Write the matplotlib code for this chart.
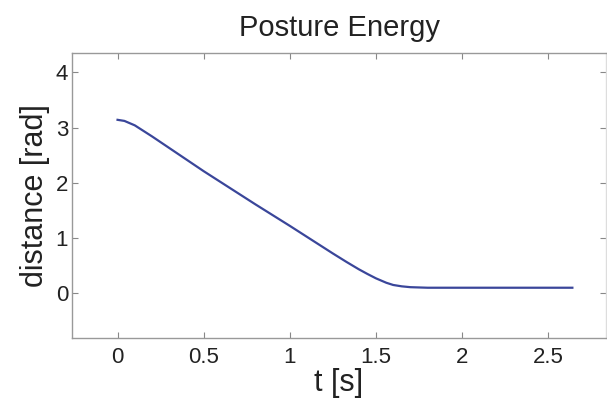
import matplotlib
matplotlib.use("Agg")
import matplotlib.pyplot as plt

# curve
t = [0.0, 0.04, 0.1, 0.2, 0.5, 0.8, 1.0, 1.15, 1.25, 1.33, 1.4, 1.45, 1.5,
     1.56, 1.6, 1.65, 1.7, 1.8, 2.0, 2.3, 2.64]
dist = [3.14, 3.12, 3.04, 2.84, 2.21, 1.61, 1.22, 0.92, 0.72, 0.565, 0.435, 0.35,
        0.27, 0.19, 0.15, 0.125, 0.11, 0.10, 0.10, 0.10, 0.10]

xticks = [0, 0.5, 1, 1.5, 2, 2.5]
xticklabels = ["0", "0.5", "1", "1.5", "2", "2.5"]
yticks = [0, 1, 2, 3, 4]

plt.rcParams['font.family'] = ['Liberation Sans', 'DejaVu Sans']

fig = plt.figure(figsize=(6.07, 4.07), dpi=100)
ax = fig.add_axes([0.119, 0.169, 0.879, 0.7015])
ax.plot(t, dist, color="#3a469a", linewidth=1.6)

ax.set_xlim(-0.263, 2.834)
ax.set_ylim(-0.814, 4.355)
ax.set_xticks(xticks)
ax.set_xticklabels(xticklabels)
ax.set_yticks(yticks)
ax.tick_params(direction="in", length=4, width=0.8, color="#888888",
               labelsize=16, labelcolor="#222222", top=True, right=True)
ax.tick_params(axis="x", pad=6)
ax.tick_params(axis="y", pad=3)
for s in ax.spines.values():
    s.set_color("#999999")
    s.set_linewidth(1.0)
ax.spines["right"].set_color("#dddddd")

ax.set_title("Posture Energy", fontsize=21, color="#222222", pad=12)
ax.set_xlabel("t [s]", fontsize=22, color="#222222", labelpad=0)
ax.set_ylabel("distance [rad]", fontsize=22, color="#222222", labelpad=4)

fig.savefig("out.png", dpi=100)
